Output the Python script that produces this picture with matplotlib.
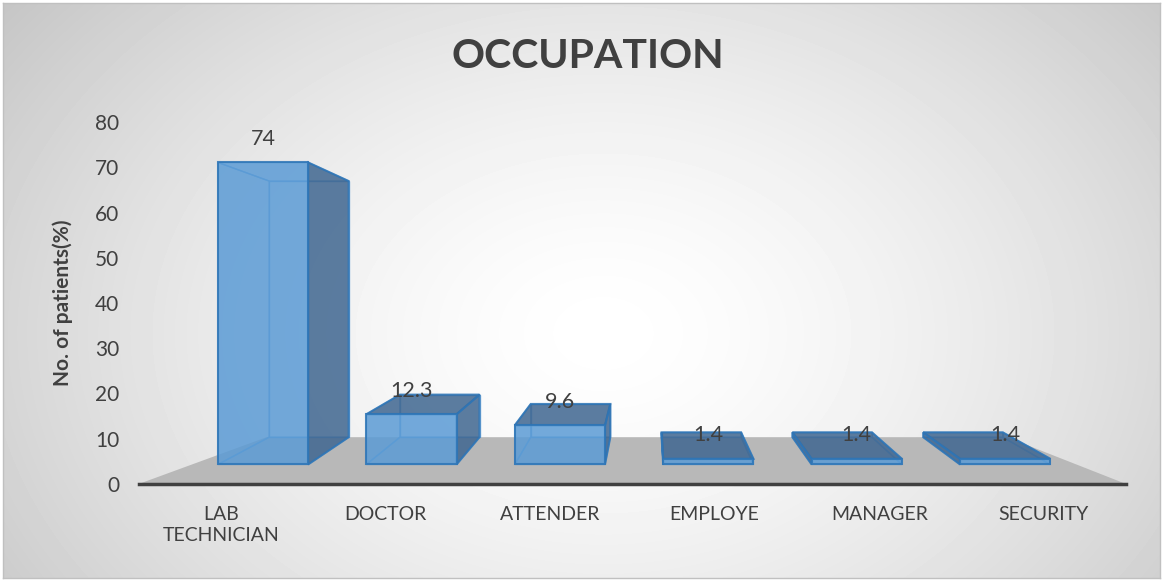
import matplotlib.pyplot as plt
import numpy as np
from matplotlib.patches import Polygon

plt.rcParams['font.family'] = ['Lato', 'DejaVu Sans']

categories = ['LAB\nTECHNICIAN', 'DOCTOR', 'ATTENDER', 'EMPLOYE', 'MANAGER', 'SECURITY']
values = [74, 12.3, 9.6, 1.4, 1.4, 1.4]
yticks = [0, 10, 20, 30, 40, 50, 60, 70, 80]

txt = '#404040'

fig = plt.figure(figsize=(11.63, 5.81), dpi=100)

# background with a soft radial gradient and a thin border
bg = fig.add_axes([3/1163, 3/581, 1157/1163, 575/581])
h, w = 575, 1157
Y, X = np.mgrid[0:h, 0:w]
d = np.sqrt(((X - 600) / 620.0) ** 2 + ((Y - 330) / 450.0) ** 2)
val = 1 - 0.17 * d ** 1.5
bg.imshow(val, cmap='gray', vmin=0, vmax=1, aspect='auto', interpolation='bilinear')
bg.set_xticks([])
bg.set_yticks([])
for s in bg.spines.values():
    s.set_color('#c0c0c0')
    s.set_linewidth(1)

ax = fig.add_axes([0.1193, 0.1670, 0.8489, 0.623])
ax.patch.set_alpha(0)
ax.set_xlim(-0.5, 5.5)
ax.set_ylim(0, 80)

# fake 3d: vanishing point + depth scale (x, y) for each plane
vp = (2.606, 44.0)
FLOOR_F, FLOOR_B = (1.0, 1.0), (0.75, 0.765)
BAR_F, BAR_B = (0.902, 0.902), (0.795, 0.765)
hw = 0.304


def proj(x, y, s):
    return (vp[0] + s[0] * (x - vp[0]), vp[1] + s[1] * (y - vp[1]))


floor = [proj(-0.5, 0, FLOOR_F), proj(5.5, 0, FLOOR_F), proj(5.5, 0, FLOOR_B), proj(-0.5, 0, FLOOR_B)]
ax.add_patch(Polygon(floor, closed=True, fc='#b8b8b8', ec='none', zorder=1))

edge = '#2e75b6'
for i, v in enumerate(values):
    x0, x1 = i - hw, i + hw
    front = [proj(x0, 0, BAR_F), proj(x1, 0, BAR_F), proj(x1, v, BAR_F), proj(x0, v, BAR_F)]
    back = [proj(x0, 0, BAR_B), proj(x1, 0, BAR_B), proj(x1, v, BAR_B), proj(x0, v, BAR_B)]
    left = [front[0], back[0], back[3], front[3]]
    right = [front[1], back[1], back[2], front[2]]
    top = [front[3], front[2], back[2], back[3]]
    bottom = [front[0], front[1], back[1], back[0]]

    side_vis = right if x1 < vp[0] else left
    side_hid = left if x1 < vp[0] else right
    top_vis = v < vp[1]

    hidden = [back, side_hid, bottom] + ([] if top_vis else [top])
    for f in hidden:
        ax.add_patch(Polygon(f, closed=True, fc='none', ec='#5b9bd5', lw=1, alpha=0.8, zorder=2))
    ax.add_patch(Polygon(side_vis, closed=True, fc='#3f6690', ec=edge, lw=1.5, alpha=0.85, zorder=3))
    if top_vis:
        ax.add_patch(Polygon(top, closed=True, fc='#3f6690', ec=edge, lw=1.5, alpha=0.85, zorder=3))
    ax.add_patch(Polygon(front, closed=True, fc='#5b9bd5', ec=edge, lw=1.5, alpha=0.85, zorder=4))

    ax.annotate(f'{v:g}', xy=proj(i, v, BAR_F), xytext=(0, 17), textcoords='offset points',
                ha='center', va='center', fontsize=15.5, color=txt, zorder=5)

ax.set_xticks(range(len(categories)))
ax.set_xticklabels(categories, linespacing=1.3)
ax.set_yticks(yticks)
ax.tick_params(axis='both', length=0, labelsize=14, labelcolor=txt)
ax.tick_params(axis='y', labelsize=15)
ax.tick_params(axis='x', pad=16)
ax.tick_params(axis='y', pad=14)
for k in ['top', 'right', 'left']:
    ax.spines[k].set_visible(False)
ax.spines['bottom'].set_color('#404040')
ax.spines['bottom'].set_linewidth(2.5)

ax.set_ylabel('No. of patients(%)', fontsize=15, fontweight='bold', color=txt)
ax.yaxis.set_label_coords(-0.0665, 0.5)

fig.text(0.5056, 0.9036, 'OCCUPATION', ha='center', va='center',
         fontsize=29.5, fontweight='bold', color=txt)

fig.savefig('out.png', dpi=100)
